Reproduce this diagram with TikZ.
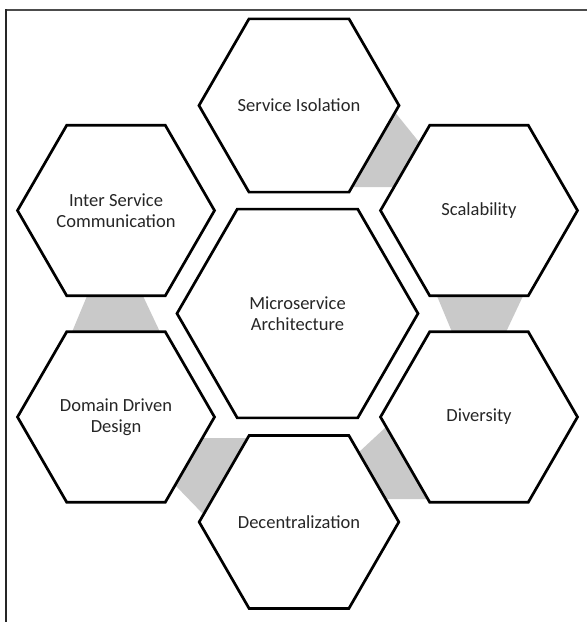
\documentclass[tikz,border=0pt]{standalone}
\usepackage{fontspec}
\setmainfont{Carlito}
\usetikzlibrary{shapes.geometric}

\begin{document}
\begin{tikzpicture}[x=1pt, y=-1pt,
  hexcell/.style={regular polygon, regular polygon sides=6, minimum size=197pt,
    inner sep=0pt, draw=black, line width=2.7pt, fill=white, align=center,
    text=black!85, font=\fontsize{18.5}{21.5}\selectfont},
  hubcell/.style={hexcell, minimum size=241pt},
  link/.style={fill=black!21}]
\useasboundingbox (0,0) rectangle (587,622);
\fill[white] (0,0) rectangle (587,622);
% frame, only top and left edge
\draw[black!70, line width=2pt] (6,10) -- (587,10);
\draw[black!85, line width=2pt] (6,9) -- (6,622);
% grey wedges between neighbouring cells, go under the cells
\fill[link] (394,111) -- (419,142) -- (393,187) -- (350,187) -- cycle;
\fill[link] (437,296) -- (523,296) -- (506,332) -- (452,332) -- cycle;
\fill[link] (386,427) -- (358,453) -- (384,499) -- (427,499) -- cycle;
\fill[link] (202,438) -- (249,438) -- (204,515) -- (175,485) -- cycle;
\fill[link] (87,296) -- (143,296) -- (160,332) -- (72,332) -- cycle;
% cells
\node[hubcell] (arch) at (297.5,313.5) {Microservice\\Architecture};
\node[hexcell] (iso) at (299,105.5) {Service Isolation};
\node[hexcell] (scale) at (479,210.5) {Scalability};
\node[hexcell] (div) at (479,417) {Diversity};
\node[hexcell] (decent) at (299,522) {Decentralization};
\node[hexcell] (ddd) at (116,417) {Domain Driven\\Design};
\node[hexcell] (comm) at (116,210.5) {Inter Service\\Communication};
\end{tikzpicture}
\end{document}
